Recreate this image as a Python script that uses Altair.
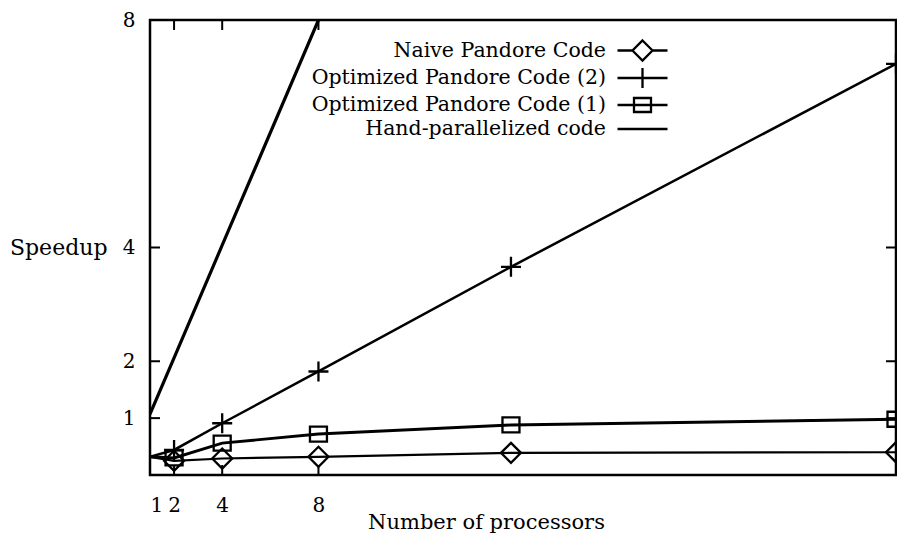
import altair as alt
import pandas as pd

# ---- data ----
procs = [1, 2, 4, 8, 16, 32]
naive = [0.32, 0.25, 0.29, 0.32, 0.39, 0.40]
opt2 = [0.32, 0.44, 0.91, 1.82, 3.66, 7.23]
opt1 = [0.32, 0.30, 0.56, 0.72, 0.88, 0.98]
hand = [1.07, 2.06, 4.04, 8.0, 15.9, 31.8]

names = ["Naive Pandore Code", "Optimized Pandore Code (2)",
         "Optimized Pandore Code (1)", "Hand-parallelized code"]
x_ticks = [1, 2, 4, 8]
y_ticks = [1, 2, 4, 8]

rows = []
for name, vals in zip(names, [naive, opt2, opt1, hand]):
    for p, v in zip(procs, vals):
        rows.append({"series": name, "procs": p, "speedup": v})
df = pd.DataFrame(rows)
xt = pd.DataFrame({"v": x_ticks})
yt = pd.DataFrame({"v": y_ticks})

FONT = "DejaVu Serif"
W, H = 746, 455

xs = alt.Scale(domain=[1, 32], nice=False, zero=False)
ys = alt.Scale(domain=[0, 8], nice=False, zero=False)

marker_paths = ["M0,-1L1,0L0,1L-1,0Z", "M-1,0H1M0,-1V1",
                "M-0.85,-0.75H0.85V0.75H-0.85Z", "M0,0"]
legend_paths = ["M-2.5,0H-1M1,0H2.5M0,-1L1,0L0,1L-1,0Z",
                "M-2.5,0H2.5M0,-1V1",
                "M-2.5,0H2.5M-0.85,-0.7H0.85V0.7H-0.85Z",
                "M-2.5,0H2.5"]

base = alt.Chart(df)

lines = base.mark_line(color="black", clip=True).encode(
    x=alt.X("procs:Q", scale=xs,
            axis=alt.Axis(values=x_ticks, format="d", tickSize=0, domain=False, grid=False,
                          labelFont=FONT, labelFontSize=20, labelPadding=20,
                          labelColor="black", title="Number of processors",
                          titleFont=FONT, titleFontSize=21, titleFontWeight="normal",
                          titleColor="black", titleX=336, titleY=47,
                          titleBaseline="middle", titleAnchor="middle")),
    y=alt.Y("speedup:Q", scale=ys,
            axis=alt.Axis(values=y_ticks, format="d", tickSize=0, domain=False, grid=False,
                          labelFont=FONT, labelFontSize=20, labelPadding=15,
                          labelColor="black", title="Speedup", titleAngle=0,
                          titleFont=FONT, titleFontSize=22, titleFontWeight="normal",
                          titleColor="black", titleAlign="right",
                          titleBaseline="middle", titleX=-43, titleY=227)),
    detail="series:N",
    strokeWidth=alt.StrokeWidth("series:N", scale=alt.Scale(domain=names, range=[2.2, 3.2, 3.4, 2.2]),
                                legend=None),
)

points = base.transform_filter("datum.procs > 1").mark_point(
    filled=False, color="black", strokeWidth=2.3, size=400, opacity=1, clip=True
).encode(
    x=alt.X("procs:Q", scale=xs),
    y=alt.Y("speedup:Q", scale=ys),
    shape=alt.Shape("series:N", scale=alt.Scale(domain=names, range=marker_paths), legend=None),
)

legend_layer = base.transform_filter("false").mark_point(
    filled=False, color="black", strokeWidth=2.3, opacity=1
).encode(
    shape=alt.Shape("series:N", scale=alt.Scale(domain=names, range=legend_paths),
                    legend=alt.Legend(orient="none", legendX=481, legendY=19, title=None,
                                      labelAlign="right", labelOffset={"expr": "-48"},
                                      labelLimit=0,
                                      labelFont=FONT, labelFontSize=20.5, labelColor="black",
                                      symbolSize=400, symbolStrokeColor="black",
                                      symbolStrokeWidth=2.3, symbolFillColor="transparent",
                                      symbolOpacity=1, rowPadding={"expr": "-3.5"}, padding=0)),
)

ytl = alt.Chart(yt).mark_rule(color="black", strokeWidth=2).encode(
    y=alt.Y("v:Q", scale=ys), x=alt.value(0), x2=alt.value(10))
ytr = alt.Chart(yt).mark_rule(color="black", strokeWidth=2).encode(
    y=alt.Y("v:Q", scale=ys), x=alt.value(W - 10), x2=alt.value(W))
xtb = alt.Chart(xt).mark_rule(color="black", strokeWidth=2).encode(
    x=alt.X("v:Q", scale=xs), y=alt.value(H), y2=alt.value(H - 10))
xtt = alt.Chart(xt).mark_rule(color="black", strokeWidth=2).encode(
    x=alt.X("v:Q", scale=xs), y=alt.value(0), y2=alt.value(10))

chart = alt.layer(lines, points, ytl, ytr, xtb, xtt, legend_layer).resolve_scale(
    shape="independent"
).properties(
    width=W, height=H,
    autosize=alt.AutoSizeParams(type="none"),
    padding={"left": 142, "top": 12, "right": 1, "bottom": 60},
    background="white",
).configure_view(stroke="black", strokeWidth=2.5)

chart.save("out.html", embed_options={"renderer": "svg", "actions": False})
